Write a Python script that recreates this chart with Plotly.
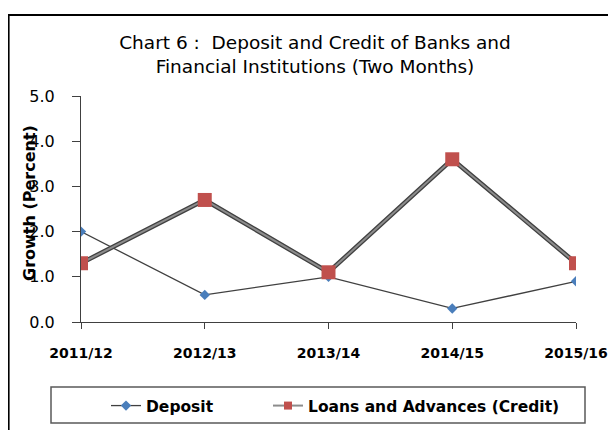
import plotly.graph_objects as go

categories = ["2011/12", "2012/13", "2013/14", "2014/15", "2015/16"]
deposit = [2.0, 0.6, 1.0, 0.3, 0.9]
credit = [1.3, 2.7, 1.1, 3.6, 1.3]
y_ticks = [0, 1, 2, 3, 4, 5]
y_tick_labels = ["0.0", "1.0", "2.0", "3.0", "4.0", "5.0"]

FONT = "DejaVu Sans"
OFF = 8  # page body margin: figure is drawn 8px right/down of the window origin

fig = go.Figure()
# credit line: dark outline + lighter core
fig.add_trace(go.Scatter(x=categories, y=credit, mode="lines",
                         line=dict(color="#404040", width=4.6),
                         showlegend=False, hoverinfo="skip"))
fig.add_trace(go.Scatter(x=categories, y=deposit, mode="lines+markers", name="Deposit",
                         line=dict(color="#404040", width=1.3),
                         marker=dict(symbol="diamond", size=8, color="#4a7ebb"),
                         legend="legend"))
fig.add_trace(go.Scatter(x=categories, y=credit, mode="lines+markers",
                         name="Loans and Advances (Credit)",
                         line=dict(color="#8c8c8c", width=2.0),
                         marker=dict(symbol="square", size=8, color="#c0504d"),
                         legend="legend2"))
fig.add_trace(go.Scatter(x=categories, y=credit, mode="markers",
                         marker=dict(symbol="square", size=14, color="#c0504d"),
                         showlegend=False, hoverinfo="skip"))

W, H = 616, 430
# plot area in window (page) pixels
PL, PR, PT, PB = 81, 576, 96, 322
L, T = PL - OFF, PT - OFF
R, B = W - (PR - OFF), H - (PB - OFF)
pw, ph = W - L - R, H - T - B


def px(x):  # window x -> paper x
    return (x - OFF - L) / pw


def py(y):  # window y -> paper y
    return (H - B - (y - OFF)) / ph


def cx(x):  # window x -> container x
    return (x - OFF) / W


def cy(y):  # window y -> container y
    return 1 - (y - OFF) / H


legend_font = dict(family=FONT, size=15.5, color="black", weight="bold")

fig.update_layout(
    width=W, height=H,
    margin=dict(l=L, r=R, t=T, b=B),
    paper_bgcolor="white", plot_bgcolor="white",
    font=dict(family=FONT, color="black"),
    title=dict(text="Chart 6 :  Deposit and Credit of Banks and<br>Financial Institutions (Two Months)",
               x=cx(315), xanchor="center", xref="container",
               y=cy(49), yanchor="top", yref="container",
               font=dict(family=FONT, size=18.5, color="black")),
    xaxis=dict(type="category", range=[0, 4], showgrid=False, zeroline=False,
               showline=True, linecolor="#404040", linewidth=1.2,
               ticks="outside", ticklen=6, tickcolor="#404040", tickwidth=1.2,
               tickfont=dict(family=FONT, size=14, color="black", weight="bold"),
               ticklabelstandoff=12),
    yaxis=dict(range=[0, 5], tickvals=y_ticks, ticktext=y_tick_labels,
               showgrid=False, zeroline=False,
               showline=True, linecolor="#404040", linewidth=1.2,
               ticks="outside", ticklen=8, tickcolor="#404040", tickwidth=1.2,
               tickfont=dict(family=FONT, size=16, color="black"),
               ticklabelstandoff=14),
    legend=dict(orientation="h", xref="container", yref="container",
                x=cx(106), xanchor="left", y=cy(389), yanchor="top",
                font=legend_font, bgcolor="rgba(0,0,0,0)", borderwidth=0),
    legend2=dict(orientation="h", xref="container", yref="container",
                 x=cx(268), xanchor="left", y=cy(389), yanchor="top",
                 font=legend_font, bgcolor="rgba(0,0,0,0)", borderwidth=0),
    annotations=[dict(text="<b>Growth (Percent)</b>", textangle=-90,
                      xref="paper", yref="paper", x=px(29), y=py(203),
                      xanchor="center", yanchor="middle", showarrow=False,
                      font=dict(family=FONT, size=16, color="black"))],
    shapes=[
        dict(type="rect", xref="paper", yref="paper",
             x0=px(8.5), x1=px(660), y0=py(470), y1=py(15),
             line=dict(color="black", width=2.2), layer="below"),
        dict(type="rect", xref="paper", yref="paper",
             x0=px(51), x1=px(585), y0=py(423), y1=py(387),
             line=dict(color="#595959", width=1.5), layer="below"),
    ],
)

fig.write_html("out.html")
